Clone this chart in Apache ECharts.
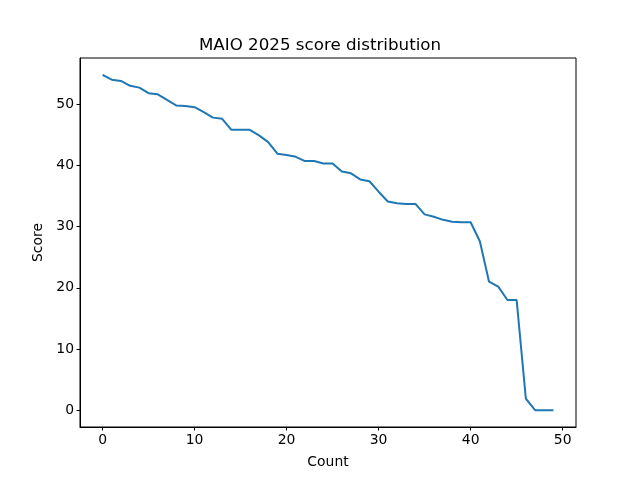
<!DOCTYPE html>
<html>
<head>
<meta charset="utf-8">
<script src="https://cdn.jsdelivr.net/npm/echarts@6/dist/echarts.min.js"></script>
<style>html,body{margin:0;padding:0;background:#fff}#c{width:640px;height:480px}</style>
</head>
<body>
<div id="c"></div>
<script>
var counts = [];
for (var i = 0; i < 50; i++) counts.push(i);
var scores = [54.8, 54.0, 53.8, 53.0, 52.7, 51.8, 51.6, 50.7, 49.8, 49.7,
              49.5, 48.7, 47.8, 47.6, 45.8, 45.8, 45.8, 44.9, 43.8, 41.9,
              41.7, 41.4, 40.7, 40.7, 40.3, 40.3, 39.0, 38.7, 37.7, 37.4,
              35.7, 34.1, 33.8, 33.7, 33.7, 32.0, 31.6, 31.1, 30.8, 30.7,
              30.7, 27.6, 21.0, 20.2, 18.0, 18.0, 1.9, 0, 0, 0];
var xTicks = [0, 10, 20, 30, 40, 50];
var yTicks = [0, 10, 20, 30, 40, 50];
var titleText = 'MAIO 2025 score distribution';
var xName = 'Count';
var yName = 'Score';

var xMin = -2.45, xMax = 51.45;
var yMin = -2.74, yMax = 57.54;
var font = 'DejaVu Sans';

var chart = echarts.init(document.getElementById('c'), null, {renderer: 'canvas'});
chart.setOption({
  animation: false,
  backgroundColor: '#ffffff',
  title: {
    text: titleText, left: 'center', top: 32,
    textStyle: {fontFamily: font, fontSize: 16.7, fontWeight: 'normal', color: '#000'}
  },
  grid: {left: 80, right: 64, top: 58, bottom: 53, show: true, borderColor: '#000', borderWidth: 1, backgroundColor: 'transparent'},
  xAxis: {
    type: 'value', min: xMin, max: xMax,
    name: xName, nameLocation: 'middle', nameGap: 28,
    nameTextStyle: {fontFamily: font, fontSize: 13.9, color: '#000'},
    axisLine: {show: true, onZero: false, lineStyle: {color: '#000', width: 1}},
    axisTick: {show: true, length: 3.5, customValues: xTicks, lineStyle: {color: '#000'}},
    axisLabel: {customValues: xTicks, fontFamily: font, fontSize: 13.9, color: '#000', margin: 6},
    splitLine: {show: false}
  },
  yAxis: {
    type: 'value', min: yMin, max: yMax,
    name: yName, nameLocation: 'middle', nameGap: 34,
    nameTextStyle: {fontFamily: font, fontSize: 13.9, color: '#000'},
    axisLine: {show: true, onZero: false, lineStyle: {color: '#000', width: 1}},
    axisTick: {show: true, length: 3.5, customValues: yTicks, lineStyle: {color: '#000'}},
    axisLabel: {customValues: yTicks, fontFamily: font, fontSize: 13.9, color: '#000', margin: 6},
    splitLine: {show: false}
  },
  series: [{
    type: 'line',
    data: counts.map(function (c, i) { return [c, scores[i]]; }),
    showSymbol: false,
    lineStyle: {color: '#1f77b4', width: 2},
    itemStyle: {color: '#1f77b4'}
  }]
});
</script>
</body>
</html>
